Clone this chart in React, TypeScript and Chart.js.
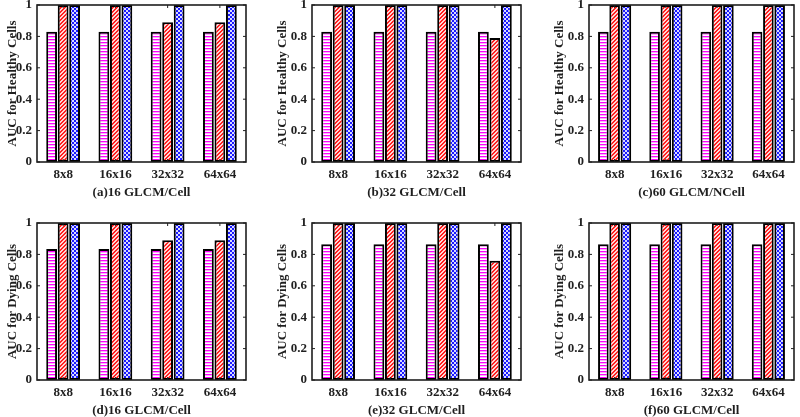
import React, { useEffect, useRef } from 'react';
import { Chart, registerables } from 'chart.js';

Chart.register(...registerables);

const categories = ['8x8', '16x16', '32x32', '64x64'];
const yTickValues = [0, 0.2, 0.4, 0.6, 0.8, 1];
const yTickLabels = ['0', '0.2', '0.4', '0.6', '0.8', '1'];

const healthy16Lines = [0.83, 0.83, 0.83, 0.83];
const healthy16Hatch = [1, 1, 0.89, 0.89];
const healthy16Check = [1, 1, 1, 1];

const healthy32Lines = [0.83, 0.83, 0.83, 0.83];
const healthy32Hatch = [1, 1, 1, 0.79];
const healthy32Check = [1, 1, 1, 1];

const healthy60Lines = [0.83, 0.83, 0.83, 0.83];
const healthy60Hatch = [1, 1, 1, 1];
const healthy60Check = [1, 1, 1, 1];

const dying16Lines = [0.835, 0.835, 0.835, 0.835];
const dying16Hatch = [1, 1, 0.89, 0.89];
const dying16Check = [1, 1, 1, 1];

const dying32Lines = [0.865, 0.865, 0.865, 0.865];
const dying32Hatch = [1, 1, 1, 0.76];
const dying32Check = [1, 1, 1, 1];

const dying60Lines = [0.865, 0.865, 0.865, 0.865];
const dying60Hatch = [1, 1, 1, 1];
const dying60Check = [1, 1, 1, 1];

const panelTitles = [
  '(a)16 GLCM/Cell',
  '(b)32 GLCM/Cell',
  '(c)60 GLCM/NCell',
  '(d)16 GLCM/Cell',
  '(e)32 GLCM/Cell',
  '(f)60 GLCM/Cell',
];
const yTitleHealthy = 'AUC for Healthy Cells';
const yTitleDying = 'AUC for Dying Cells';

const panelData = [
  [healthy16Lines, healthy16Hatch, healthy16Check],
  [healthy32Lines, healthy32Hatch, healthy32Check],
  [healthy60Lines, healthy60Hatch, healthy60Check],
  [dying16Lines, dying16Hatch, dying16Check],
  [dying32Lines, dying32Hatch, dying32Check],
  [dying60Lines, dying60Hatch, dying60Check],
];

// layout (pixels)
const colLeft = [37, 312, 589];
const colRight = [246, 521, 794];
const colYW = [37, 42, 42];
const rowTop = [5, 223];
const rowBottom = [162, 380];
const PAD_TOP = 5;
const PAD_RIGHT = 4;
const X_H = 46;
const PAD_BOTTOM = 8;

const FONT = "'Liberation Serif', 'Times New Roman', serif";
const TEXT = '#1f1f1f';

function makeLinesPattern(ctx: CanvasRenderingContext2D) {
  const c = document.createElement('canvas');
  c.width = 4; c.height = 3;
  const g = c.getContext('2d')!;
  g.fillStyle = '#ffffff'; g.fillRect(0, 0, 4, 3);
  g.fillStyle = '#ff00ff'; g.fillRect(0, 0, 4, 1);
  g.fillStyle = '#f8b0f8'; g.fillRect(0, 1, 4, 1);
  return ctx.createPattern(c, 'repeat')!;
}
function makeHatchPattern(ctx: CanvasRenderingContext2D) {
  const c = document.createElement('canvas');
  c.width = 4; c.height = 4;
  const g = c.getContext('2d')!;
  g.fillStyle = '#ffd6d6'; g.fillRect(0, 0, 4, 4);
  g.fillStyle = '#ff2020';
  for (let i = 0; i < 4; i++) {
    g.fillRect(i, 3 - i, 1, 1);
    g.fillRect((i + 1) % 4, 3 - i, 1, 1);
  }
  return ctx.createPattern(c, 'repeat')!;
}
function makeCheckPattern(ctx: CanvasRenderingContext2D) {
  const c = document.createElement('canvas');
  c.width = 4; c.height = 4;
  const g = c.getContext('2d')!;
  g.fillStyle = '#1a1aff'; g.fillRect(0, 0, 4, 4);
  g.fillStyle = '#d8d8ff';
  g.fillRect(0, 0, 2, 2);
  g.fillRect(2, 2, 2, 2);
  return ctx.createPattern(c, 'repeat')!;
}

const boxPlugin = {
  id: 'matlabBox',
  afterDatasetsDraw(chart: any) {
    const { ctx, chartArea, scales } = chart;
    const { left, right, top, bottom } = chartArea;
    ctx.save();
    ctx.strokeStyle = TEXT;
    ctx.lineWidth = 1;
    const line = (x1: number, y1: number, x2: number, y2: number) => {
      ctx.beginPath(); ctx.moveTo(x1, y1); ctx.lineTo(x2, y2); ctx.stroke();
    };
    yTickValues.forEach((v) => {
      const y = scales.y.getPixelForValue(v);
      line(left, y, left + 3, y);
      line(right, y, right - 3, y);
    });
    categories.forEach((_c, i) => {
      const x = scales.x.getPixelForValue(i);
      line(x, bottom, x, bottom - 3);
      line(x, top, x, top + 3);
    });
    ctx.lineWidth = 1.6;
    ctx.strokeRect(left, top, right - left, bottom - top);
    ctx.restore();
  },
};

function Panel({ index }: { index: number }) {
  const ref = useRef<HTMLCanvasElement>(null);
  const col = index % 3;
  const row = Math.floor(index / 3);
  const yW = colYW[col];
  const L = colLeft[col] - yW;
  const T = rowTop[row] - PAD_TOP;
  const W = colRight[col] + PAD_RIGHT - L;
  const H = rowBottom[row] + X_H - T;

  useEffect(() => {
    const canvas = ref.current!;
    const ctx = canvas.getContext('2d')!;
    const [lines, hatch, check] = panelData[index];
    const fills = [makeLinesPattern(ctx), makeHatchPattern(ctx), makeCheckPattern(ctx)];
    const chart = new Chart(canvas, {
      type: 'bar',
      data: {
        labels: categories,
        datasets: [lines, hatch, check].map((d, i) => ({
          data: d,
          backgroundColor: fills[i] as any,
          borderColor: '#000000',
          borderWidth: 2,
          borderSkipped: false,
          categoryPercentage: 0.66,
          barPercentage: 0.94,
        })),
      },
      options: {
        animation: false,
        responsive: false,
        maintainAspectRatio: false,
        devicePixelRatio: 1,
        layout: { padding: { top: PAD_TOP, right: PAD_RIGHT, bottom: PAD_BOTTOM, left: 0 } },
        plugins: { legend: { display: false }, tooltip: { enabled: false } },
        scales: {
          x: {
            grid: { display: false, drawTicks: false },
            border: { display: false },
            ticks: { color: TEXT, padding: 5, font: { family: FONT, size: 13, weight: 'bold' } },
            title: {
              display: true,
              text: panelTitles[index],
              color: TEXT,
              padding: { top: 2, bottom: 0 },
              font: { family: FONT, size: 13, weight: 'bold' },
            },
            afterFit: (s: any) => { s.height = X_H - PAD_BOTTOM; s.paddingLeft = 0; s.paddingRight = 0; },
          },
          y: {
            min: 0,
            max: 1,
            grid: { display: false, drawTicks: false },
            border: { display: false },
            ticks: {
              stepSize: 0.2,
              color: TEXT,
              padding: 5,
              font: { family: FONT, size: 13, weight: 'bold' },
              callback: (_v: any, i: number) => yTickLabels[i],
            },
            title: {
              display: true,
              text: row === 0 ? yTitleHealthy : yTitleDying,
              color: TEXT,
              padding: { top: 5, bottom: 0 },
              font: { family: FONT, size: 13, weight: 'bold' },
            },
            afterFit: (s: any) => { s.width = yW; s.paddingTop = 0; s.paddingBottom = 0; },
          },
        },
      },
      plugins: [boxPlugin],
    });
    return () => chart.destroy();
  }, [index]);

  return (
    <canvas
      ref={ref}
      width={W}
      height={H}
      style={{ position: 'absolute', left: L, top: T, width: W, height: H }}
    />
  );
}

export default function App() {
  return (
    <div
      style={{
        position: 'fixed',
        left: 0,
        top: 0,
        width: 800,
        height: 417,
        overflow: 'hidden',
        background: '#ffffff',
      }}
    >
      {[0, 1, 2, 3, 4, 5].map((i) => (
        <Panel key={i} index={i} />
      ))}
    </div>
  );
}
